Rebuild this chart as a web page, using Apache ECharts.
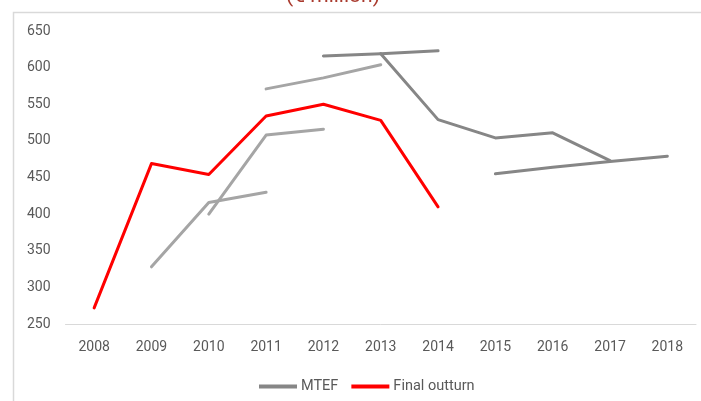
<!DOCTYPE html>
<html>
<head>
<meta charset="utf-8">
<script src="https://cdn.jsdelivr.net/npm/echarts@6/dist/echarts.min.js"></script>
<style>
  html, body { margin: 0; padding: 0; background: #fff; }
  #chart { width: 701px; height: 401px; }
</style>
</head>
<body>
<div id="chart"></div>
<script>
var years = ['2008', '2009', '2010', '2011', '2012', '2013', '2014', '2015', '2016', '2017', '2018'];
var finalOutturn = [272, 469, 454, 534, 550, 528, 410, null, null, null, null];
// MTEF vintages
var mtefA = [null, 328, 416, 430, null, null, null, null, null, null, null];
var mtefB = [null, null, 400, 508, 516, null, null, null, null, null, null];
var mtefC = [null, null, null, 571, 586, 604, null, null, null, null, null];
var mtefD = [null, null, null, null, 616, 619, 623, null, null, null, null];
var mtefE = [null, null, null, null, null, 619, 529, 504, 511, 473, null];
var mtefF = [null, null, null, null, null, null, null, 455, 464, 472, 479];
var yTicks = [250, 300, 350, 400, 450, 500, 550, 600, 650];

var chart = echarts.init(document.getElementById('chart'));
var font = 'Roboto, "Liberation Sans", sans-serif';

function line(name, data, color) {
  return {
    name: name,
    type: 'line',
    data: data,
    symbol: 'none',
    connectNulls: false,
    lineStyle: { color: color, width: 3, cap: 'round', join: 'round' },
    itemStyle: { color: color },
    emphasis: { disabled: true },
    animation: false
  };
}

var option = {
  backgroundColor: '#fff',
  animation: false,
  title: {
    text: '(€ million)',
    left: 328,
    textAlign: 'center',
    top: -19,
    textStyle: { color: '#A93A2E', fontSize: 21, fontWeight: 'normal', fontFamily: font }
  },
  graphic: [{
    type: 'rect',
    shape: { x: 13.5, y: 12.5, width: 720, height: 420 },
    style: { fill: 'none', stroke: '#D9D9D9', lineWidth: 1.5 },
    silent: true,
    z: -1
  }],
  legend: {
    data: ['MTEF', 'Final outturn'],
    left: 254,
    top: 374,
    itemWidth: 38,
    itemHeight: 4,
    itemGap: 13,
    icon: 'rect',
    textStyle: { color: '#595959', fontSize: 14.5, fontFamily: font, padding: [0, 0, 0, -1] }
  },
  grid: { left: 65.5, right: 5, top: 31, bottom: 77 },
  xAxis: {
    type: 'category',
    data: years,
    boundaryGap: true,
    axisLine: { lineStyle: { color: '#D9D9D9', width: 1 } },
    axisTick: { show: false },
    axisLabel: { color: '#595959', fontSize: 14, fontFamily: font, margin: 16 },
    splitLine: { show: false }
  },
  yAxis: {
    type: 'value',
    min: yTicks[0],
    max: yTicks[yTicks.length - 1],
    interval: 50,
    axisLine: { show: false },
    axisTick: { show: false },
    splitLine: { show: false },
    axisLabel: { color: '#595959', fontSize: 14, fontFamily: font, margin: 15 }
  },
  series: [
    line('MTEF 2009', mtefA, '#A5A5A5'),
    line('MTEF 2010', mtefB, '#A5A5A5'),
    line('MTEF 2011', mtefC, '#A5A5A5'),
    line('MTEF', mtefD, '#868686'),
    line('MTEF 2013', mtefE, '#868686'),
    line('MTEF 2015', mtefF, '#868686'),
    line('Final outturn', finalOutturn, '#FF0000')
  ]
};
chart.setOption(option);
</script>
</body>
</html>
